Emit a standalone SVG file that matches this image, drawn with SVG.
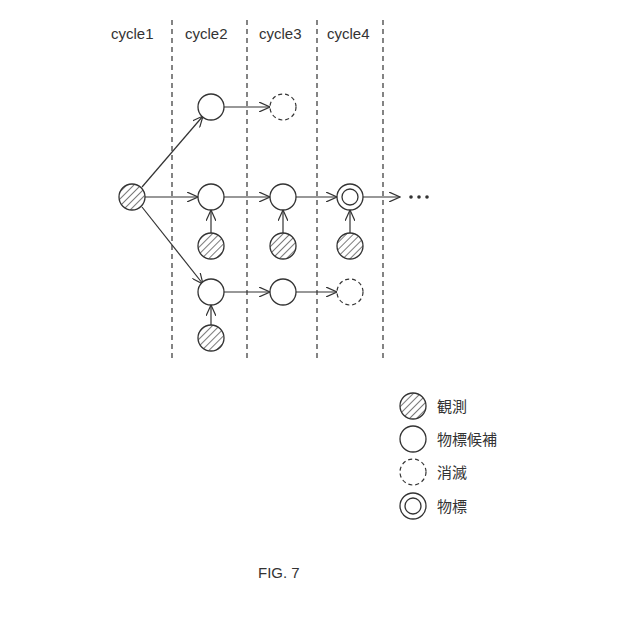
<svg xmlns="http://www.w3.org/2000/svg" width="640" height="633" viewBox="0 0 640 633">
<defs>
<pattern id="h" patternUnits="userSpaceOnUse" width="5" height="5" patternTransform="rotate(45)"><rect width="5" height="5" fill="#fff"/><line x1="0" y1="0" x2="0" y2="5" stroke="#333" stroke-width="1.3"/></pattern>
<marker id="a" markerWidth="12" markerHeight="10" refX="11" refY="5" orient="auto" markerUnits="userSpaceOnUse"><path d="M0,0 L11,5 L0,10" fill="none" stroke="#333" stroke-width="1.2"/></marker>
</defs>
<style>
.t{font-family:"Liberation Sans",Arial,sans-serif;font-size:15px;fill:#333}
.j{font-family:"Noto Sans CJK JP",sans-serif;font-size:15px;fill:#333}
.n{fill:#fff;stroke:#333;stroke-width:1.3}
.o{fill:url(#h);stroke:#333;stroke-width:1.3}
.d{fill:#fff;stroke:#333;stroke-width:1.2;stroke-dasharray:4,3}
.v{stroke:#333;stroke-width:1.2;stroke-dasharray:5,4}
.c{stroke:#333;stroke-width:1.2;fill:none;marker-end:url(#a)}
</style>
<rect width="640" height="633" fill="#fff"/>
<g id="grid">
<line class="v" x1="172" y1="20" x2="172" y2="362"/>
<line class="v" x1="247" y1="20" x2="247" y2="362"/>
<line class="v" x1="317" y1="20" x2="317" y2="362"/>
<line class="v" x1="383" y1="20" x2="383" y2="362"/>
<text class="t" x="111" y="39">cycle1</text>
<text class="t" x="185" y="39">cycle2</text>
<text class="t" x="259" y="39">cycle3</text>
<text class="t" x="327" y="39">cycle4</text>
</g>
<g id="connectors">
<line class="c" x1="142" y1="187" x2="203" y2="116"/>
<line class="c" x1="145" y1="197" x2="198" y2="197"/>
<line class="c" x1="142" y1="207" x2="203" y2="284"/>
<line class="c" x1="224" y1="107" x2="270" y2="107"/>
<line class="c" x1="224" y1="197" x2="270" y2="197"/>
<line class="c" x1="296" y1="197" x2="337" y2="197"/>
<line class="c" x1="363" y1="197" x2="400" y2="197"/>
<line class="c" x1="224" y1="292" x2="270" y2="292"/>
<line class="c" x1="296" y1="292" x2="337" y2="292"/>
<line class="c" x1="211" y1="233" x2="211" y2="210"/>
<line class="c" x1="283" y1="233" x2="283" y2="210"/>
<line class="c" x1="350" y1="233" x2="350" y2="210"/>
<line class="c" x1="211" y1="325" x2="211" y2="305"/>
</g>
<g id="nodes">
<circle id="o0" class="o" cx="132" cy="197" r="13"/>
<circle id="a1" class="n" cx="211" cy="107" r="13"/>
<circle id="a2" class="d" cx="283" cy="107" r="13"/>
<circle id="b1" class="n" cx="211" cy="197" r="13"/>
<circle id="b2" class="n" cx="283" cy="197" r="13"/>
<g id="b3"><circle class="n" cx="350" cy="197" r="13"/><circle class="n" cx="350" cy="197" r="8"/></g>
<circle id="c1" class="n" cx="211" cy="292" r="13"/>
<circle id="c2" class="n" cx="283" cy="292" r="13"/>
<circle id="c3" class="d" cx="350" cy="292" r="13"/>
<circle id="ob1" class="o" cx="211" cy="246" r="13"/>
<circle id="ob2" class="o" cx="283" cy="246" r="13"/>
<circle id="ob3" class="o" cx="350" cy="246" r="13"/>
<circle id="oc1" class="o" cx="211" cy="338" r="13"/>
<g id="dots" fill="#333"><circle cx="411" cy="197" r="1.8"/><circle cx="419" cy="197" r="1.8"/><circle cx="427" cy="197" r="1.8"/></g>
</g>
<g id="legend">
<circle class="o" cx="413" cy="406" r="13"/><text class="j" x="437" y="412">観測</text>
<circle class="n" cx="413" cy="439" r="13"/><text class="j" x="437" y="445">物標候補</text>
<circle class="d" cx="413" cy="472" r="13"/><text class="j" x="437" y="478">消滅</text>
<circle class="n" cx="413" cy="506" r="13"/><circle class="n" cx="413" cy="506" r="8"/><text class="j" x="437" y="512">物標</text>
</g>
<text class="t" x="258" y="578">FIG. 7</text>
</svg>
